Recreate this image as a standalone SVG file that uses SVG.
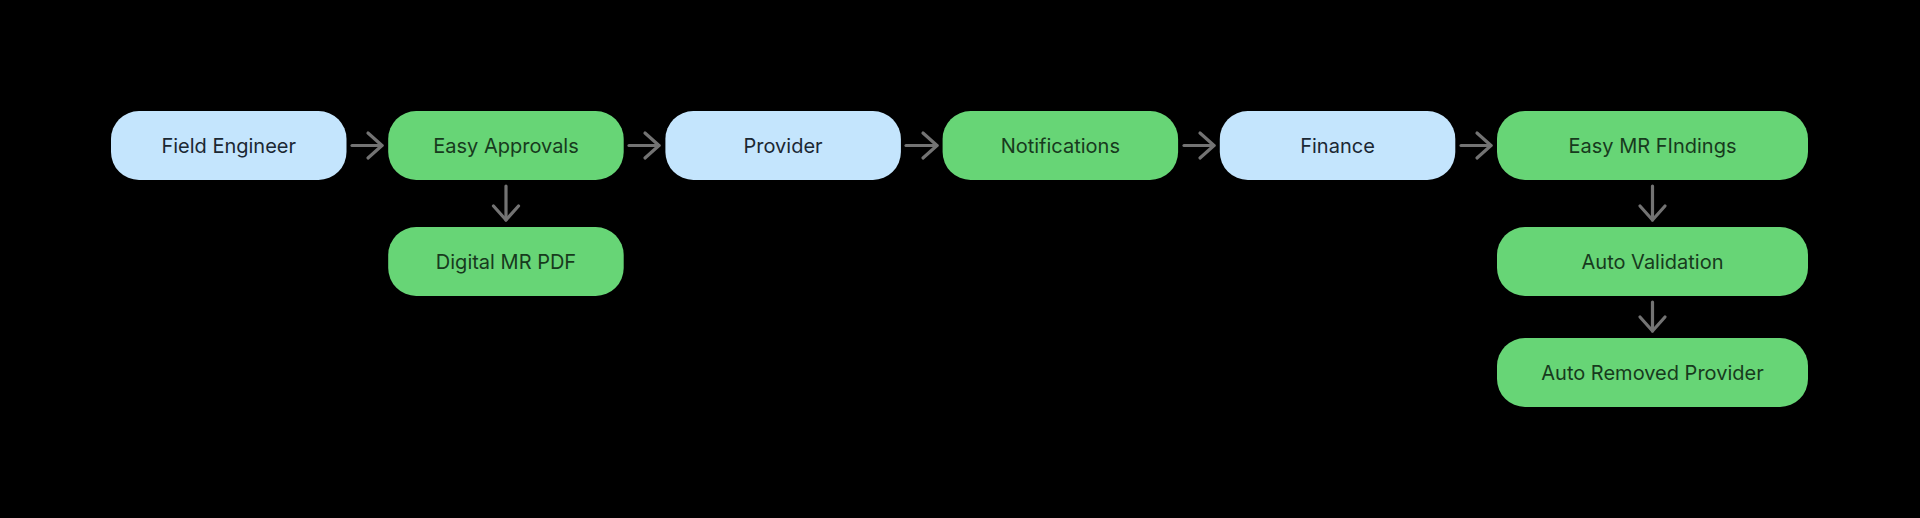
<svg xmlns="http://www.w3.org/2000/svg" width="1920" height="518" viewBox="0 0 1920 518">
<defs>
<style>
.bg{fill:#000}
.blue{fill:#c4e5fd}
.green{fill:#67d576}
.t{font-family:Inter,"Liberation Sans",sans-serif;font-size:20px;text-anchor:middle}
.tb{fill:#1b2833}
.tg{fill:#173a1d}
.c{stroke:#737373;stroke-width:3.2;fill:none;stroke-linecap:round;stroke-linejoin:round}
</style>
<marker id="ah" markerWidth="20" markerHeight="30" refX="15" refY="13" orient="auto" markerUnits="userSpaceOnUse" viewBox="0 0 20 30" overflow="visible">
<path d="M1,0.5 L15,13 L1,25.5" fill="none" stroke="#737373" stroke-width="3.2" stroke-linecap="round" stroke-linejoin="round"/>
</marker>
</defs>
<rect class="bg" x="0" y="0" width="1920" height="518"/>
<g id="connectors">
<line class="c" x1="352" y1="145.5" x2="382" y2="145.5" marker-end="url(#ah)"/>
<line class="c" x1="629" y1="145.5" x2="659" y2="145.5" marker-end="url(#ah)"/>
<line class="c" x1="906" y1="145.5" x2="937" y2="145.5" marker-end="url(#ah)"/>
<line class="c" x1="1184" y1="145.5" x2="1214" y2="145.5" marker-end="url(#ah)"/>
<line class="c" x1="1461" y1="145.5" x2="1491" y2="145.5" marker-end="url(#ah)"/>
<line class="c" x1="506" y1="186" x2="506" y2="220" marker-end="url(#ah)"/>
<line class="c" x1="1652.5" y1="186" x2="1652.5" y2="220" marker-end="url(#ah)"/>
<line class="c" x1="1652.5" y1="302" x2="1652.5" y2="331" marker-end="url(#ah)"/>
</g>
<g id="field-engineer">
<rect class="blue" x="111" y="111" width="235.5" height="69" rx="28"/>
<text class="t tb" x="228.7" y="153">Field Engineer</text>
</g>
<g id="easy-approvals">
<rect class="green" x="388.2" y="111" width="235.5" height="69" rx="28"/>
<text class="t tg" x="506" y="153">Easy Approvals</text>
</g>
<g id="provider">
<rect class="blue" x="665.4" y="111" width="235.5" height="69" rx="28"/>
<text class="t tb" x="783.1" y="153">Provider</text>
</g>
<g id="notifications">
<rect class="green" x="942.6" y="111" width="235.5" height="69" rx="28"/>
<text class="t tg" x="1060.3" y="153">Notifications</text>
</g>
<g id="finance">
<rect class="blue" x="1219.8" y="111" width="235.5" height="69" rx="28"/>
<text class="t tb" x="1337.5" y="153">Finance</text>
</g>
<g id="easy-mr-findings">
<rect class="green" x="1497" y="111" width="311" height="69" rx="28"/>
<text class="t tg" x="1652.5" y="153">Easy MR FIndings</text>
</g>
<g id="digital-mr-pdf">
<rect class="green" x="388.2" y="227" width="235.5" height="69" rx="28"/>
<text class="t tg" x="506" y="269">Digital MR PDF</text>
</g>
<g id="auto-validation">
<rect class="green" x="1497" y="227" width="311" height="69" rx="28"/>
<text class="t tg" x="1652.5" y="269">Auto Validation</text>
</g>
<g id="auto-removed-provider">
<rect class="green" x="1497" y="338" width="311" height="69" rx="28"/>
<text class="t tg" x="1652.5" y="380">Auto Removed Provider</text>
</g>
</svg>
